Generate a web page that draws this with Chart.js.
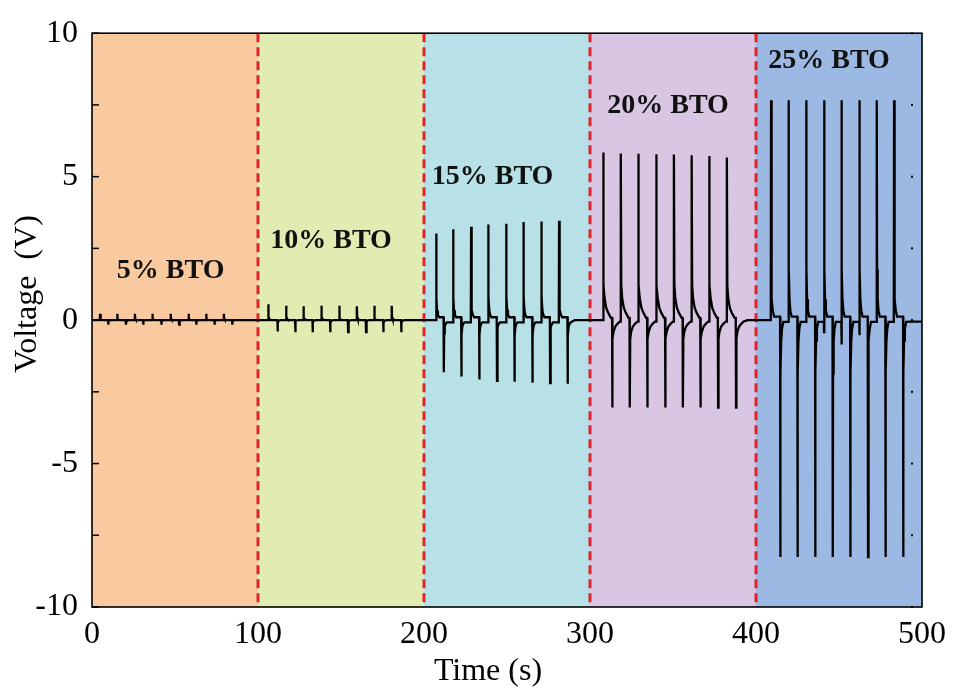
<!DOCTYPE html>
<html>
<head>
<meta charset="utf-8">
<script src="https://cdn.jsdelivr.net/npm/chart.js@4.4.1/dist/chart.umd.min.js"></script>
<style>
  html, body { margin: 0; padding: 0; background: #ffffff; }
  #wrap { width: 954px; height: 695px; position: relative; }
</style>
</head>
<body>
<div id="wrap"><canvas id="c" width="954" height="695"></canvas></div>
<script>
// ---------- data ----------
const xTickValues = [0, 100, 200, 300, 400, 500];
const yTickValues = [-10, -5, 0, 5, 10];
const yMinorValues = [-7.5, -2.5, 2.5, 7.5];
const regionBounds = [0, 100, 200, 300, 400, 500];
const regionNames = ['5% BTO', '10% BTO', '15% BTO', '20% BTO', '25% BTO'];
const regionLabelX = [47.4, 144, 241.3, 347, 444];
const regionLabelY = [1.71, 2.77, 4.98, 7.48, 9.03];

// 5% BTO
const pos5T = [4.8, 15.2, 25.8, 36.4, 47.4, 58.2, 68.8, 79.4];
const pos5V = [0.22, 0.22, 0.22, 0.22, 0.22, 0.22, 0.22, 0.22];
const neg5T = [9.8, 20.4, 30.8, 41.8, 52.4, 62.8, 73.8, 84.4];
const neg5V = [-0.16, -0.16, -0.16, -0.16, -0.16, -0.16, -0.16, -0.16];
// 10% BTO
const pos10T = [106.2, 116.9, 127.4, 138.2, 148.8, 159.5, 169.9, 180.5];
const pos10V = [0.55, 0.5, 0.48, 0.5, 0.5, 0.48, 0.5, 0.5];
const neg10T = [111.8, 122.3, 132.9, 143.5, 154.2, 165.0, 175.5, 186.3];
const neg10V = [-0.4, -0.42, -0.42, -0.42, -0.42, -0.42, -0.42, -0.42];
// 15% BTO
const pos15T = [207.3, 217.5, 228.3, 238.7, 249.5, 259.9, 270.7, 281.3];
const pos15V = [3.02, 3.17, 3.25, 3.33, 3.36, 3.42, 3.44, 3.46];
const neg15T = [211.9, 222.5, 233.3, 243.9, 254.5, 265.3, 275.9, 286.5];
const neg15V = [-1.82, -1.97, -2.07, -2.12, -2.15, -2.18, -2.20, -2.22];
// 20% BTO
const pos20T = [307.9, 318.5, 329.1, 339.9, 350.5, 361.2, 371.8, 382.4];
const pos20V = [5.84, 5.81, 5.80, 5.78, 5.77, 5.75, 5.72, 5.67];
const neg20T = [313.3, 323.9, 334.5, 345.3, 355.9, 366.5, 377.1, 387.9];
const neg20V = [-3.05, -3.05, -3.05, -3.05, -3.05, -3.05, -3.05, -3.05];
// 25% BTO
const pos25T = [409.0, 419.6, 430.2, 441.0, 451.5, 462.3, 472.7, 483.1];
const pos25V = [7.66, 7.66, 7.66, 7.66, 7.66, 7.66, 7.66, 7.66];
const neg25T = [414.6, 425.0, 435.6, 446.2, 456.8, 467.4, 478.0, 488.6];
const neg25V = [-8.26, -8.26, -8.26, -8.26, -8.26, -8.26, -8.26, -8.26];
const dip25V = [0, 0, 0, -0.42, -0.85, -0.53, 0, 0];

// pulse decay shapes (seconds after peak, fraction of peak left)
const fastTailT = [0.15, 0.5, 1.0, 1.8];
const fastTailF = [0.22, 0.08, 0.03, 0];
const slowTailT = [0.25, 0.8, 1.8, 3.0, 4.6];
const slowTailF = [0.2, 0.12, 0.06, 0.03, 0.0];

// plateau levels between pulses (after positive, after negative)
const plateau5 = [0, 0];
const plateau10 = [0, 0];
const plateau15 = [0.1, -0.08];
const plateau20 = [0.08, -0.05];
const plateau25 = [0.12, -0.06];

// ---------- build the trace ----------
function addSpike(pts, t, peak, hold, from, rest, tailT, tailF) {
  pts.push({x: t - 0.1, y: hold});
  pts.push({x: t, y: from});
  pts.push({x: t + 0.08, y: peak});
  for (let k = 0; k < tailT.length; k++) {
    pts.push({x: t + 0.08 + tailT[k], y: rest + (peak - rest) * tailF[k]});
  }
}
function addRegion(pts, start, end, posT, posV, negT, negV, dips, tailT, tailF, plat, endLevel) {
  pts.push({x: start, y: 0});
  let level = 0;
  for (let i = 0; i < posT.length; i++) {
    const from = dips && dips[i] ? dips[i] : level;
    addSpike(pts, posT[i], posV[i], level, from, plat[0], tailT, tailF);
    addSpike(pts, negT[i], negV[i], plat[0], plat[0], plat[1], tailT, tailF);
    level = plat[1];
  }
  const last = negT[negT.length - 1];
  pts.push({x: last + tailT[tailT.length - 1] + 2.5, y: endLevel});
  pts.push({x: end, y: endLevel});
}
const trace = [];
addRegion(trace, 0, 100, pos5T, pos5V, neg5T, neg5V, null, fastTailT, fastTailF, plateau5, 0);
addRegion(trace, 100, 200, pos10T, pos10V, neg10T, neg10V, null, fastTailT, fastTailF, plateau10, 0);
addRegion(trace, 200, 300, pos15T, pos15V, neg15T, neg15V, null, fastTailT, fastTailF, plateau15, 0);
addRegion(trace, 300, 400, pos20T, pos20V, neg20T, neg20V, null, slowTailT, slowTailF, plateau20, 0);
addRegion(trace, 400, 500, pos25T, pos25V, neg25T, neg25V, dip25V, fastTailT, fastTailF, plateau25, -0.05);

// ---------- styles ----------
const regionColors = ['#F9C9A0', '#E2ECB2', '#B7E1E6', '#D9C6E2', '#9BB9E2'];
const serif = "'Liberation Serif', 'Times New Roman', serif";

const decorPlugin = {
  id: 'decor',
  beforeDatasetsDraw(chart) {
    const {ctx, chartArea: a, scales: {x, y}} = chart;
    ctx.save();
    for (let i = 0; i < regionColors.length; i++) {
      const x0 = x.getPixelForValue(regionBounds[i]);
      const x1 = x.getPixelForValue(regionBounds[i + 1]);
      ctx.fillStyle = regionColors[i];
      ctx.fillRect(x0, a.top, x1 - x0, a.bottom - a.top);
    }
    ctx.strokeStyle = '#E0242B';
    ctx.lineWidth = 3;
    ctx.setLineDash([9, 5]);
    for (let i = 1; i < regionBounds.length - 1; i++) {
      const px = x.getPixelForValue(regionBounds[i]);
      ctx.beginPath();
      ctx.moveTo(px, a.top);
      ctx.lineTo(px, a.bottom);
      ctx.stroke();
    }
    ctx.restore();
  },
  afterDatasetsDraw(chart) {
    const {ctx, chartArea: a, scales: {x, y}} = chart;
    ctx.save();
    // frame
    ctx.strokeStyle = '#000';
    ctx.lineWidth = 1.6;
    ctx.setLineDash([]);
    ctx.strokeRect(a.left, a.top, a.right - a.left, a.bottom - a.top);
    // inward y ticks
    ctx.lineWidth = 1.5;
    const all = yTickValues.concat(yMinorValues);
    for (const v of all) {
      const py = y.getPixelForValue(v);
      ctx.beginPath();
      ctx.moveTo(a.left, py);
      ctx.lineTo(a.left + 7, py);
      ctx.stroke();
      ctx.fillStyle = '#000';
      ctx.fillRect(a.right - 11, py - 1, 2, 2);
    }
    // region labels
    ctx.fillStyle = '#111';
    ctx.font = 'bold 28px ' + serif;
    ctx.textAlign = 'center';
    ctx.textBaseline = 'middle';
    for (let i = 0; i < regionNames.length; i++) {
      ctx.fillText(regionNames[i], x.getPixelForValue(regionLabelX[i]), y.getPixelForValue(regionLabelY[i]));
    }
    // axis titles
    ctx.fillStyle = '#000';
    ctx.font = '32px ' + serif;
    ctx.fillText('Time (s)', 488, 672);
    ctx.translate(28, 294);
    ctx.rotate(-Math.PI / 2);
    ctx.fillText('Voltage  (V)', 0, 0);
    ctx.restore();
  }
};

new Chart(document.getElementById('c'), {
  type: 'line',
  data: {
    datasets: [{
      data: trace,
      borderColor: '#000',
      borderWidth: 2.3,
      pointRadius: 0,
      tension: 0,
      fill: false
    }]
  },
  options: {
    responsive: false,
    animation: false,
    events: [],
    layout: { padding: { top: 29, right: 29, left: 0, bottom: 0 } },
    plugins: { legend: { display: false }, tooltip: { enabled: false } },
    scales: {
      x: {
        type: 'linear', min: 0, max: 500,
        afterBuildTicks(s) { s.ticks = xTickValues.map(v => ({value: v})); },
        afterFit(s) { s.height = 88; },
        grid: { display: false, drawTicks: false },
        border: { display: false },
        ticks: { color: '#000', font: { family: serif, size: 32 }, padding: 8, maxRotation: 0 }
      },
      y: {
        type: 'linear', min: -10, max: 10,
        afterBuildTicks(s) { s.ticks = yTickValues.map(v => ({value: v})); },
        afterFit(s) { s.width = 92; },
        grid: { display: false, drawTicks: false },
        border: { display: false },
        ticks: { color: '#000', font: { family: serif, size: 32 }, padding: 14 }
      }
    }
  },
  plugins: [decorPlugin]
});
</script>
</body>
</html>
